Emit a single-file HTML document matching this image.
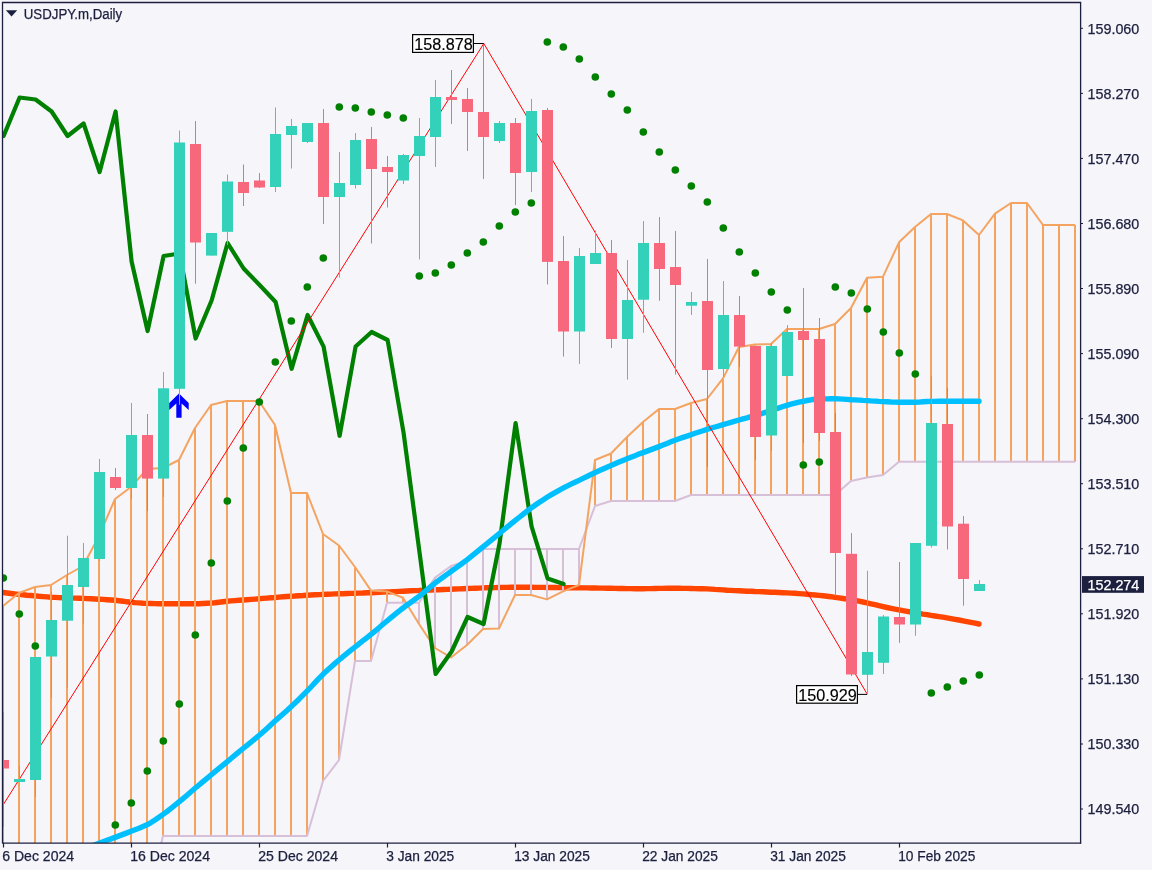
<!DOCTYPE html>
<html><head><meta charset="utf-8"><title>USDJPY.m, Daily</title>
<style>html,body{margin:0;padding:0;background:#f5f5fa;overflow:hidden}svg text{font-family:"Liberation Sans",sans-serif}</style>
</head><body>
<svg width="1152" height="870" viewBox="0 0 1152 870" style="display:block">
<rect width="1152" height="870" fill="#f5f5fa"/>
<defs><clipPath id="cp"><rect x="3" y="3" width="1077" height="840"/></clipPath></defs>
<g clip-path="url(#cp)">
<polyline points="-5.0,591.5 -1.0,592.0 3.0,592.5 7.0,593.0 11.0,593.5 15.0,594.0 19.0,594.4 23.0,594.8 27.0,595.2 31.0,595.5 35.0,595.9 39.0,596.3 43.0,596.6 47.0,596.9 51.0,597.2 55.0,597.4 59.0,597.6 63.0,597.7 67.0,597.8 71.0,598.0 75.0,598.1 79.0,598.2 83.0,598.4 87.0,598.6 91.0,598.8 95.0,599.0 99.0,599.2 103.0,599.4 107.0,599.7 111.0,600.0 115.0,600.3 119.0,600.7 123.0,601.2 127.0,601.8 131.0,602.2 135.0,602.6 139.0,602.9 143.0,603.2 147.0,603.4 151.0,603.5 155.0,603.6 159.0,603.7 163.0,603.8 167.0,603.8 171.0,603.8 175.0,603.8 179.0,603.8 183.0,603.8 187.0,603.8 191.0,603.8 195.0,603.8 199.0,603.7 203.0,603.5 207.0,603.3 211.0,603.1 215.0,602.7 219.0,602.2 223.0,601.7 227.0,601.2 231.0,600.9 235.0,600.6 239.0,600.3 243.0,600.0 247.0,599.7 251.0,599.4 255.0,599.1 259.0,598.8 263.0,598.4 267.0,598.1 271.0,597.8 275.0,597.5 279.0,597.1 283.0,596.8 287.0,596.5 291.0,596.2 295.0,596.0 299.0,595.7 303.0,595.5 307.0,595.2 311.0,595.0 315.0,594.8 319.0,594.6 323.0,594.4 327.0,594.2 331.0,594.1 335.0,593.9 339.0,593.8 343.0,593.7 347.0,593.5 351.0,593.4 355.0,593.3 359.0,593.1 363.0,593.0 367.0,592.8 371.0,592.7 375.0,592.5 379.0,592.3 383.0,592.1 387.0,591.9 391.0,591.8 395.0,591.6 399.0,591.4 403.0,591.2 407.0,591.0 411.0,590.8 415.0,590.6 419.0,590.5 423.0,590.3 427.0,590.1 431.0,590.0 435.0,589.8 439.0,589.7 443.0,589.5 447.0,589.4 451.0,589.2 455.0,589.0 459.0,588.9 463.0,588.7 467.0,588.5 471.0,588.4 475.0,588.2 479.0,588.1 483.0,587.9 487.0,587.8 491.0,587.7 495.0,587.6 499.0,587.5 503.0,587.4 507.0,587.4 511.0,587.3 515.0,587.3 519.0,587.3 523.0,587.3 527.0,587.3 531.0,587.3 535.0,587.4 539.0,587.4 543.0,587.4 547.0,587.5 551.0,587.5 555.0,587.5 559.0,587.6 563.0,587.6 567.0,587.7 571.0,587.7 575.0,587.8 579.0,587.8 583.0,587.9 587.0,587.9 591.0,588.0 595.0,588.0 599.0,588.1 603.0,588.1 607.0,588.2 611.0,588.3 615.0,588.4 619.0,588.5 623.0,588.5 627.0,588.6 631.0,588.6 635.0,588.7 639.0,588.7 643.0,588.7 647.0,588.6 651.0,588.6 655.0,588.5 659.0,588.4 663.0,588.4 667.0,588.3 671.0,588.3 675.0,588.3 679.0,588.3 683.0,588.4 687.0,588.4 691.0,588.5 695.0,588.6 699.0,588.7 703.0,588.8 707.0,588.9 711.0,589.1 715.0,589.4 719.0,589.6 723.0,589.9 727.0,590.2 731.0,590.4 735.0,590.6 739.0,590.8 743.0,591.0 747.0,591.2 751.0,591.3 755.0,591.5 759.0,591.6 763.0,591.8 767.0,592.0 771.0,592.2 775.0,592.3 779.0,592.5 783.0,592.7 787.0,592.9 791.0,593.1 795.0,593.3 799.0,593.6 803.0,593.9 807.0,594.2 811.0,594.6 815.0,595.0 819.0,595.4 823.0,595.8 827.0,596.2 831.0,596.7 835.0,597.3 839.0,597.9 843.0,598.5 847.0,599.1 851.0,599.8 855.0,600.5 859.0,601.2 863.0,602.0 867.0,602.9 871.0,603.8 875.0,604.7 879.0,605.7 883.0,606.6 887.0,607.5 891.0,608.3 895.0,609.1 899.0,609.8 903.0,610.6 907.0,611.3 911.0,612.0 915.0,612.7 919.0,613.4 923.0,614.1 927.0,614.7 931.0,615.4 935.0,616.0 939.0,616.6 943.0,617.2 947.0,617.9 951.0,618.6 955.0,619.3 959.0,620.0 963.0,620.8 967.0,621.6 971.0,622.4 975.0,623.2 979.0,624.0" fill="none" stroke="#ff4500" stroke-width="5.4" stroke-linecap="round" stroke-linejoin="round"/>
<path d="M3 606.0V850.0M19 593.0V850.0M35 587.0V850.0M51 585.0V850.0M67 575.0V850.0M83 566.0V850.0M99 536.0V850.0M115 499.0V850.0M131 487.0V850.0M147 469.0V850.0M163 468.0V836.0M179 460.0V836.0M195 428.0V836.0M211 405.0V836.0M227 401.0V836.0M243 401.0V836.0M259 401.0V836.0M275 425.0V836.0M291 493.0V836.0M307 493.0V836.0M323 534.0V781.0M339 545.5V760.0M355 567.0V661.0M371 590.6V661.0M387 591.4V602.7M403 597.7V602.7M595 460.0V506.0M611 453.5V501.0M627 437.0V501.0M643 422.0V501.0M659 409.0V501.0M675 409.0V501.0M691 403.0V495.0M707 399.0V495.0M723 378.4V495.0M739 347.0V495.0M755 344.5V495.0M771 344.0V495.0M787 329.0V495.0M803 329.0V495.0M819 329.0V495.0M835 324.0V495.0M851 308.0V481.0M867 277.8V477.4M883 276.7V475.0M899 242.3V461.8M915 227.0V461.8M931 214.0V461.8M947 214.0V461.8M963 220.4V461.8M979 235.0V461.8M995 213.6V461.8M1011 203.0V461.8M1027 203.0V461.8M1043 225.0V461.8M1059 225.0V461.8M1075 225.0V461.8" stroke="#f4a460" stroke-width="2" fill="none"/>
<path d="M419 602.7V624.0M435 577.6V648.0M451 566.0V657.5M467 561.0V645.0M483 549.0V629.0M499 549.0V628.5M515 549.0V595.0M531 549.0V595.0M547 549.0V599.4M563 549.0V591.4M579 549.0V585.0" stroke="#d8bfd8" stroke-width="2" fill="none"/>
<polyline points="3,903.0 19,903.0 35,903.0 51,903.0 67,903.0 83,903.0 99,903.0 115,903.0 131,903.0 147,903.0 163,836.0 179,836.0 195,836.0 211,836.0 227,836.0 243,836.0 259,836.0 275,836.0 291,836.0 307,836.0 323,781.0 339,760.0 355,661.0 371,661.0 387,602.7 403,602.7 419,602.7 435,577.6 451,566.0 467,561.0 483,549.0 499,549.0 515,549.0 531,549.0 547,549.0 563,549.0 579,549.0 595,506.0 611,501.0 627,501.0 643,501.0 659,501.0 675,501.0 691,495.0 707,495.0 723,495.0 739,495.0 755,495.0 771,495.0 787,495.0 803,495.0 819,495.0 835,495.0 851,481.0 867,477.4 883,475.0 899,461.8 915,461.8 931,461.8 947,461.8 963,461.8 979,461.8 995,461.8 1011,461.8 1027,461.8 1043,461.8 1059,461.8 1075,461.8" fill="none" stroke="#d8bfd8" stroke-width="2" stroke-linejoin="round"/>
<polyline points="3,606.0 19,593.0 35,587.0 51,585.0 67,575.0 83,566.0 99,536.0 115,499.0 131,487.0 147,469.0 163,468.0 179,460.0 195,428.0 211,405.0 227,401.0 243,401.0 259,401.0 275,425.0 291,493.0 307,493.0 323,534.0 339,545.5 355,567.0 371,590.6 387,591.4 403,597.7 419,624.0 435,648.0 451,657.5 467,645.0 483,629.0 499,628.5 515,595.0 531,595.0 547,599.4 563,591.4 579,585.0 595,460.0 611,453.5 627,437.0 643,422.0 659,409.0 675,409.0 691,403.0 707,399.0 723,378.4 739,347.0 755,344.5 771,344.0 787,329.0 803,329.0 819,329.0 835,324.0 851,308.0 867,277.8 883,276.7 899,242.3 915,227.0 931,214.0 947,214.0 963,220.4 979,235.0 995,213.6 1011,203.0 1027,203.0 1043,225.0 1059,225.0 1075,225.0" fill="none" stroke="#f4a460" stroke-width="2" stroke-linejoin="round"/>
<polyline points="3.6,136.0 19.6,97.5 35.6,99.5 51.6,111.5 67.6,136.0 83.6,123.5 99.6,172.0 115.6,111.5 131.6,261.5 147.6,331.0 163.6,256.0 179.6,253.5 195.6,338.5 211.6,300.5 227.6,243.0 243.6,268.5 259.6,285.0 275.6,302.0 291.6,368.8 307.6,315.0 323.6,346.6 339.6,435.8 355.6,346.5 371.6,332.0 387.6,340.0 403.6,433.0 419.6,553.0 435.6,674.0 451.6,651.5 467.6,617.0 483.6,624.0 499.6,543.0 515.6,423.0 531.6,526.5 547.6,578.5 563.6,584.0" fill="none" stroke="#008000" stroke-width="4.2" stroke-linejoin="round" stroke-linecap="round"/>
<polyline points="83.0,849.0 87.0,847.6 91.0,846.1 95.0,844.7 99.0,843.2 103.0,841.8 107.0,840.3 111.0,838.9 115.0,837.4 119.0,835.9 123.0,834.4 127.0,832.9 131.0,831.3 135.0,829.8 139.0,828.3 143.0,826.6 147.0,824.8 151.0,822.6 155.0,820.0 159.0,817.2 163.0,814.4 167.0,811.5 171.0,808.4 175.0,805.2 179.0,801.9 183.0,798.6 187.0,795.2 191.0,791.7 195.0,788.3 199.0,785.0 203.0,781.6 207.0,778.3 211.0,775.0 215.0,771.7 219.0,768.4 223.0,765.1 227.0,761.8 231.0,758.5 235.0,755.1 239.0,751.8 243.0,748.5 247.0,745.3 251.0,742.1 255.0,738.8 259.0,735.5 263.0,732.0 267.0,728.4 271.0,724.7 275.0,721.1 279.0,717.5 283.0,714.0 287.0,710.5 291.0,706.8 295.0,703.0 299.0,699.2 303.0,695.2 307.0,691.2 311.0,687.0 315.0,682.7 319.0,678.4 323.0,674.3 327.0,670.5 331.0,666.9 335.0,663.4 339.0,660.0 343.0,656.7 347.0,653.4 351.0,650.2 355.0,647.0 359.0,643.8 363.0,640.7 367.0,637.6 371.0,634.4 375.0,631.1 379.0,627.7 383.0,624.3 387.0,621.0 391.0,617.7 395.0,614.4 399.0,611.1 403.0,608.0 407.0,605.0 411.0,602.2 415.0,599.3 419.0,596.3 423.0,593.1 427.0,589.8 431.0,586.4 435.0,583.2 439.0,580.2 443.0,577.3 447.0,574.4 451.0,571.5 455.0,568.6 459.0,565.7 463.0,562.8 467.0,559.8 471.0,556.6 475.0,553.4 479.0,550.1 483.0,546.8 487.0,543.6 491.0,540.3 495.0,537.1 499.0,533.8 503.0,530.5 507.0,527.2 511.0,523.9 515.0,520.7 519.0,517.5 523.0,514.3 527.0,511.2 531.0,508.2 535.0,505.3 539.0,502.5 543.0,499.9 547.0,497.3 551.0,494.9 555.0,492.6 559.0,490.3 563.0,488.2 567.0,486.2 571.0,484.2 575.0,482.3 579.0,480.4 583.0,478.4 587.0,476.5 591.0,474.5 595.0,472.6 599.0,470.8 603.0,469.0 607.0,467.2 611.0,465.5 615.0,463.8 619.0,462.1 623.0,460.4 627.0,458.8 631.0,457.2 635.0,455.7 639.0,454.1 643.0,452.6 647.0,451.1 651.0,449.6 655.0,448.1 659.0,446.6 663.0,445.0 667.0,443.4 671.0,441.8 675.0,440.3 679.0,438.8 683.0,437.4 687.0,436.1 691.0,434.7 695.0,433.3 699.0,432.0 703.0,430.7 707.0,429.4 711.0,428.2 715.0,427.0 719.0,425.9 723.0,424.7 727.0,423.5 731.0,422.3 735.0,421.2 739.0,420.0 743.0,418.9 747.0,417.8 751.0,416.6 755.0,415.5 759.0,414.3 763.0,413.1 767.0,411.9 771.0,410.6 775.0,409.3 779.0,407.9 783.0,406.5 787.0,405.3 791.0,404.2 795.0,403.1 799.0,402.1 803.0,401.3 807.0,400.5 811.0,399.8 815.0,399.3 819.0,399.0 823.0,398.9 827.0,398.9 831.0,398.8 835.0,398.8 839.0,398.9 843.0,399.1 847.0,399.4 851.0,399.7 855.0,399.9 859.0,400.1 863.0,400.4 867.0,400.6 871.0,400.9 875.0,401.1 879.0,401.4 883.0,401.6 887.0,401.8 891.0,402.0 895.0,402.1 899.0,402.2 903.0,402.2 907.0,402.2 911.0,402.2 915.0,402.2 919.0,402.1 923.0,401.8 927.0,401.5 931.0,401.4 935.0,401.4 939.0,401.3 943.0,401.3 947.0,401.3 951.0,401.3 955.0,401.3 959.0,401.3 963.0,401.3 967.0,401.3 971.0,401.3 975.0,401.3 979.0,401.3" fill="none" stroke="#00bfff" stroke-width="5.4" stroke-linecap="round" stroke-linejoin="round"/>
<polyline points="-2,813 483.8,43.5 867,693.8" fill="none" stroke="#ff0000" stroke-width="1"/>
<circle cx="3.3" cy="578" r="3.8" fill="#008000"/>
<circle cx="19.3" cy="614" r="3.8" fill="#008000"/>
<circle cx="35.3" cy="646" r="3.8" fill="#008000"/>
<circle cx="115.3" cy="825" r="3.8" fill="#008000"/>
<circle cx="131.3" cy="803" r="3.8" fill="#008000"/>
<circle cx="147.3" cy="771" r="3.8" fill="#008000"/>
<circle cx="163.3" cy="741" r="3.8" fill="#008000"/>
<circle cx="179.3" cy="704" r="3.8" fill="#008000"/>
<circle cx="195.3" cy="635" r="3.8" fill="#008000"/>
<circle cx="211.3" cy="563" r="3.8" fill="#008000"/>
<circle cx="227.3" cy="501" r="3.8" fill="#008000"/>
<circle cx="243.3" cy="448" r="3.8" fill="#008000"/>
<circle cx="259.3" cy="402" r="3.8" fill="#008000"/>
<circle cx="275.3" cy="362" r="3.8" fill="#008000"/>
<circle cx="291.3" cy="321" r="3.8" fill="#008000"/>
<circle cx="307.3" cy="287" r="3.8" fill="#008000"/>
<circle cx="323.3" cy="258" r="3.8" fill="#008000"/>
<circle cx="339.3" cy="107" r="3.8" fill="#008000"/>
<circle cx="355.3" cy="108" r="3.8" fill="#008000"/>
<circle cx="371.3" cy="112" r="3.8" fill="#008000"/>
<circle cx="387.3" cy="115" r="3.8" fill="#008000"/>
<circle cx="403.3" cy="118" r="3.8" fill="#008000"/>
<circle cx="419.3" cy="276" r="3.8" fill="#008000"/>
<circle cx="435.3" cy="273" r="3.8" fill="#008000"/>
<circle cx="451.3" cy="265" r="3.8" fill="#008000"/>
<circle cx="467.3" cy="253" r="3.8" fill="#008000"/>
<circle cx="483.3" cy="242" r="3.8" fill="#008000"/>
<circle cx="499.3" cy="226" r="3.8" fill="#008000"/>
<circle cx="515.3" cy="212" r="3.8" fill="#008000"/>
<circle cx="531.3" cy="203" r="3.8" fill="#008000"/>
<circle cx="547.3" cy="42" r="3.8" fill="#008000"/>
<circle cx="563.3" cy="47" r="3.8" fill="#008000"/>
<circle cx="579.3" cy="59" r="3.8" fill="#008000"/>
<circle cx="595.3" cy="77" r="3.8" fill="#008000"/>
<circle cx="611.3" cy="94" r="3.8" fill="#008000"/>
<circle cx="627.3" cy="110" r="3.8" fill="#008000"/>
<circle cx="643.3" cy="132" r="3.8" fill="#008000"/>
<circle cx="659.3" cy="152" r="3.8" fill="#008000"/>
<circle cx="675.3" cy="170" r="3.8" fill="#008000"/>
<circle cx="691.3" cy="186" r="3.8" fill="#008000"/>
<circle cx="707.3" cy="202" r="3.8" fill="#008000"/>
<circle cx="723.3" cy="228" r="3.8" fill="#008000"/>
<circle cx="739.3" cy="252" r="3.8" fill="#008000"/>
<circle cx="755.3" cy="273" r="3.8" fill="#008000"/>
<circle cx="771.3" cy="292" r="3.8" fill="#008000"/>
<circle cx="787.3" cy="310" r="3.8" fill="#008000"/>
<circle cx="803.3" cy="465" r="3.8" fill="#008000"/>
<circle cx="819.3" cy="462" r="3.8" fill="#008000"/>
<circle cx="835.3" cy="287" r="3.8" fill="#008000"/>
<circle cx="851.3" cy="293" r="3.8" fill="#008000"/>
<circle cx="867.3" cy="309" r="3.8" fill="#008000"/>
<circle cx="883.3" cy="332" r="3.8" fill="#008000"/>
<circle cx="899.3" cy="353" r="3.8" fill="#008000"/>
<circle cx="915.3" cy="374" r="3.8" fill="#008000"/>
<circle cx="931.3" cy="693" r="3.8" fill="#008000"/>
<circle cx="947.3" cy="687" r="3.8" fill="#008000"/>
<circle cx="963.3" cy="681" r="3.8" fill="#008000"/>
<circle cx="979.3" cy="675" r="3.8" fill="#008000"/>
<path d="M179 393.5L188.7 403V410L181.6 403.4V417.7H176.3V403.4L169.2 410V403Z" fill="#0000ff"/>
<rect x="3.0" y="712" width="1" height="115.0" fill="#f7687d"/>
<rect x="-2.0" y="760" width="11" height="8.5" fill="#f7687d"/>
<rect x="19.0" y="766" width="1" height="16.0" fill="#33d1b9"/>
<rect x="14.0" y="779" width="11" height="3.0" fill="#33d1b9"/>
<rect x="35.0" y="657" width="1" height="140.0" fill="#33d1b9"/>
<rect x="30.0" y="657" width="11" height="123.0" fill="#33d1b9"/>
<rect x="51.0" y="592" width="1" height="106.0" fill="#33d1b9"/>
<rect x="46.0" y="620" width="11" height="36.5" fill="#33d1b9"/>
<rect x="67.0" y="535.7" width="1" height="151.9" fill="#33d1b9"/>
<rect x="62.0" y="585" width="11" height="35.7" fill="#33d1b9"/>
<rect x="83.0" y="543" width="1" height="80.5" fill="#33d1b9"/>
<rect x="78.0" y="558" width="11" height="29.0" fill="#33d1b9"/>
<rect x="99.0" y="459" width="1" height="102.0" fill="#33d1b9"/>
<rect x="94.0" y="472" width="11" height="87.0" fill="#33d1b9"/>
<rect x="115.0" y="468" width="1" height="22.0" fill="#f7687d"/>
<rect x="110.0" y="477" width="11" height="11.0" fill="#f7687d"/>
<rect x="131.0" y="403" width="1" height="95.6" fill="#33d1b9"/>
<rect x="126.0" y="435" width="11" height="53.0" fill="#33d1b9"/>
<rect x="147.0" y="414" width="1" height="97.0" fill="#f7687d"/>
<rect x="142.0" y="435" width="11" height="43.6" fill="#f7687d"/>
<rect x="163.0" y="372" width="1" height="125.0" fill="#33d1b9"/>
<rect x="158.0" y="388.3" width="11" height="90.3" fill="#33d1b9"/>
<rect x="179.0" y="130.5" width="1" height="274.3" fill="#33d1b9"/>
<rect x="174.0" y="142.5" width="11" height="246.3" fill="#33d1b9"/>
<rect x="195.0" y="121" width="1" height="162.7" fill="#f7687d"/>
<rect x="190.0" y="144" width="11" height="98.5" fill="#f7687d"/>
<rect x="211.0" y="233" width="1" height="22.6" fill="#33d1b9"/>
<rect x="206.0" y="233" width="11" height="22.6" fill="#33d1b9"/>
<rect x="227.0" y="174.5" width="1" height="70.5" fill="#33d1b9"/>
<rect x="222.0" y="181.5" width="11" height="50.3" fill="#33d1b9"/>
<rect x="243.0" y="164.5" width="1" height="41.5" fill="#f7687d"/>
<rect x="238.0" y="182" width="11" height="11.0" fill="#f7687d"/>
<rect x="259.0" y="173" width="1" height="15.0" fill="#f7687d"/>
<rect x="254.0" y="180.5" width="11" height="7.0" fill="#f7687d"/>
<rect x="275.0" y="107.5" width="1" height="84.5" fill="#33d1b9"/>
<rect x="270.0" y="134" width="11" height="53.0" fill="#33d1b9"/>
<rect x="291.0" y="119" width="1" height="49.5" fill="#33d1b9"/>
<rect x="286.0" y="126" width="11" height="9.0" fill="#33d1b9"/>
<rect x="307.0" y="123" width="1" height="20.0" fill="#33d1b9"/>
<rect x="302.0" y="123" width="11" height="19.0" fill="#33d1b9"/>
<rect x="323.0" y="109" width="1" height="115.0" fill="#f7687d"/>
<rect x="318.0" y="123" width="11" height="74.0" fill="#f7687d"/>
<rect x="339.0" y="152" width="1" height="125.6" fill="#33d1b9"/>
<rect x="334.0" y="183" width="11" height="14.0" fill="#33d1b9"/>
<rect x="355.0" y="133" width="1" height="55.5" fill="#33d1b9"/>
<rect x="350.0" y="140" width="11" height="45.0" fill="#33d1b9"/>
<rect x="371.0" y="127" width="1" height="116.5" fill="#f7687d"/>
<rect x="366.0" y="139" width="11" height="30.0" fill="#f7687d"/>
<rect x="387.0" y="156" width="1" height="51.5" fill="#f7687d"/>
<rect x="382.0" y="167" width="11" height="5.0" fill="#f7687d"/>
<rect x="403.0" y="154" width="1" height="30.0" fill="#33d1b9"/>
<rect x="398.0" y="155" width="11" height="25.5" fill="#33d1b9"/>
<rect x="419.0" y="118" width="1" height="141.4" fill="#33d1b9"/>
<rect x="414.0" y="136" width="11" height="20.0" fill="#33d1b9"/>
<rect x="435.0" y="80" width="1" height="87.0" fill="#33d1b9"/>
<rect x="430.0" y="97" width="11" height="40.0" fill="#33d1b9"/>
<rect x="451.0" y="70" width="1" height="54.0" fill="#f7687d"/>
<rect x="446.0" y="97" width="11" height="3.0" fill="#f7687d"/>
<rect x="467.0" y="88" width="1" height="63.0" fill="#f7687d"/>
<rect x="462.0" y="99" width="11" height="13.0" fill="#f7687d"/>
<rect x="483.0" y="44" width="1" height="135.0" fill="#f7687d"/>
<rect x="478.0" y="112" width="11" height="25.0" fill="#f7687d"/>
<rect x="499.0" y="121" width="1" height="22.0" fill="#33d1b9"/>
<rect x="494.0" y="123" width="11" height="18.0" fill="#33d1b9"/>
<rect x="515.0" y="118" width="1" height="87.0" fill="#f7687d"/>
<rect x="510.0" y="123" width="11" height="50.0" fill="#f7687d"/>
<rect x="531.0" y="99" width="1" height="93.0" fill="#33d1b9"/>
<rect x="526.0" y="111" width="11" height="61.0" fill="#33d1b9"/>
<rect x="547.0" y="108" width="1" height="176.4" fill="#f7687d"/>
<rect x="542.0" y="110" width="11" height="151.9" fill="#f7687d"/>
<rect x="563.0" y="236" width="1" height="120.6" fill="#f7687d"/>
<rect x="558.0" y="261" width="11" height="70.5" fill="#f7687d"/>
<rect x="579.0" y="248" width="1" height="116.0" fill="#33d1b9"/>
<rect x="574.0" y="256" width="11" height="75.5" fill="#33d1b9"/>
<rect x="595.0" y="230.5" width="1" height="33.5" fill="#33d1b9"/>
<rect x="590.0" y="253" width="11" height="11.0" fill="#33d1b9"/>
<rect x="611.0" y="240" width="1" height="108.0" fill="#f7687d"/>
<rect x="606.0" y="253" width="11" height="86.0" fill="#f7687d"/>
<rect x="627.0" y="260" width="1" height="119.6" fill="#33d1b9"/>
<rect x="622.0" y="300" width="11" height="39.0" fill="#33d1b9"/>
<rect x="643.0" y="221" width="1" height="111.8" fill="#33d1b9"/>
<rect x="638.0" y="243" width="11" height="56.7" fill="#33d1b9"/>
<rect x="659.0" y="217" width="1" height="83.7" fill="#f7687d"/>
<rect x="654.0" y="243" width="11" height="26.0" fill="#f7687d"/>
<rect x="675.0" y="231" width="1" height="143.6" fill="#f7687d"/>
<rect x="670.0" y="267" width="11" height="18.0" fill="#f7687d"/>
<rect x="691.0" y="292" width="1" height="23.0" fill="#33d1b9"/>
<rect x="686.0" y="302" width="11" height="3.7" fill="#33d1b9"/>
<rect x="707.0" y="259" width="1" height="208.0" fill="#f7687d"/>
<rect x="702.0" y="301" width="11" height="69.0" fill="#f7687d"/>
<rect x="723.0" y="281" width="1" height="96.0" fill="#33d1b9"/>
<rect x="718.0" y="315" width="11" height="54.0" fill="#33d1b9"/>
<rect x="739.0" y="296" width="1" height="71.0" fill="#f7687d"/>
<rect x="734.0" y="315" width="11" height="31.6" fill="#f7687d"/>
<rect x="755.0" y="346" width="1" height="114.0" fill="#f7687d"/>
<rect x="750.0" y="346" width="11" height="91.0" fill="#f7687d"/>
<rect x="771.0" y="343" width="1" height="108.0" fill="#33d1b9"/>
<rect x="766.0" y="346" width="11" height="89.5" fill="#33d1b9"/>
<rect x="787.0" y="325" width="1" height="51.0" fill="#33d1b9"/>
<rect x="782.0" y="332" width="11" height="44.0" fill="#33d1b9"/>
<rect x="803.0" y="288" width="1" height="155.0" fill="#f7687d"/>
<rect x="798.0" y="331" width="11" height="9.0" fill="#f7687d"/>
<rect x="819.0" y="318" width="1" height="123.0" fill="#f7687d"/>
<rect x="814.0" y="339" width="11" height="94.0" fill="#f7687d"/>
<rect x="835.0" y="413" width="1" height="183.0" fill="#f7687d"/>
<rect x="830.0" y="432" width="11" height="121.0" fill="#f7687d"/>
<rect x="851.0" y="533" width="1" height="143.0" fill="#f7687d"/>
<rect x="846.0" y="553.8" width="11" height="120.7" fill="#f7687d"/>
<rect x="867.0" y="570.8" width="1" height="123.7" fill="#33d1b9"/>
<rect x="862.0" y="652" width="11" height="22.8" fill="#33d1b9"/>
<rect x="883.0" y="615" width="1" height="59.0" fill="#33d1b9"/>
<rect x="878.0" y="616.5" width="11" height="46.3" fill="#33d1b9"/>
<rect x="899.0" y="562" width="1" height="80.8" fill="#f7687d"/>
<rect x="894.0" y="617" width="11" height="7.5" fill="#f7687d"/>
<rect x="915.0" y="543" width="1" height="92.8" fill="#33d1b9"/>
<rect x="910.0" y="543" width="11" height="81.5" fill="#33d1b9"/>
<rect x="931.0" y="376.4" width="1" height="171.1" fill="#33d1b9"/>
<rect x="926.0" y="423" width="11" height="122.8" fill="#33d1b9"/>
<rect x="947.0" y="388" width="1" height="161.5" fill="#f7687d"/>
<rect x="942.0" y="424" width="11" height="102.5" fill="#f7687d"/>
<rect x="963.0" y="516" width="1" height="89.7" fill="#f7687d"/>
<rect x="958.0" y="523.7" width="11" height="55.3" fill="#f7687d"/>
<rect x="979.0" y="580" width="1" height="11.0" fill="#33d1b9"/>
<rect x="974.0" y="584" width="11" height="7.0" fill="#33d1b9"/>
</g>
<rect x="412.6" y="34.6" width="60.8" height="17.8" fill="#fff" stroke="#000" stroke-width="1.2"/>
<path d="M474 43.5H483.8" stroke="#000" stroke-width="1"/>
<text x="414.2" y="49.8" font-size="16.2" fill="#000" stroke="#000" stroke-width="0.15" textLength="58.5" lengthAdjust="spacingAndGlyphs">158.878</text>
<rect x="796.6" y="685.6" width="60.8" height="17.599999999999955" fill="#fff" stroke="#000" stroke-width="1.2"/>
<path d="M858 694.4H867" stroke="#000" stroke-width="1"/>
<text x="798.2" y="700.5999999999999" font-size="16.2" fill="#000" stroke="#000" stroke-width="0.15" textLength="58.5" lengthAdjust="spacingAndGlyphs">150.929</text>
<path d="M2.5 843.5V2.5H1080.6V843.5" fill="none" stroke="#1c1f3e" stroke-width="1.3"/>
<path d="M2.5 843.2H1081.2" fill="none" stroke="#1c1f3e" stroke-width="1.3"/>
<path d="M5.9 10.2H17.2L11.55 16.4Z" fill="#1c1f3e"/>
<text x="23.8" y="18.7" font-size="14" fill="#1c1f3e" stroke="#1c1f3e" stroke-width="0.25" textLength="98.4" lengthAdjust="spacingAndGlyphs">USDJPY.m,Daily</text>
<path d="M1081 28.3H1083" stroke="#1c1f3e" stroke-width="1"/>
<text x="1087.5" y="33.6" font-size="14" fill="#1c1f3e" stroke="#1c1f3e" stroke-width="0.25" textLength="51.8" lengthAdjust="spacingAndGlyphs">159.060</text>
<path d="M1081 93.4H1083" stroke="#1c1f3e" stroke-width="1"/>
<text x="1087.5" y="98.7" font-size="14" fill="#1c1f3e" stroke="#1c1f3e" stroke-width="0.25" textLength="51.8" lengthAdjust="spacingAndGlyphs">158.270</text>
<path d="M1081 158.4H1083" stroke="#1c1f3e" stroke-width="1"/>
<text x="1087.5" y="163.7" font-size="14" fill="#1c1f3e" stroke="#1c1f3e" stroke-width="0.25" textLength="51.8" lengthAdjust="spacingAndGlyphs">157.470</text>
<path d="M1081 223.5H1083" stroke="#1c1f3e" stroke-width="1"/>
<text x="1087.5" y="228.8" font-size="14" fill="#1c1f3e" stroke="#1c1f3e" stroke-width="0.25" textLength="51.8" lengthAdjust="spacingAndGlyphs">156.680</text>
<path d="M1081 288.5H1083" stroke="#1c1f3e" stroke-width="1"/>
<text x="1087.5" y="293.8" font-size="14" fill="#1c1f3e" stroke="#1c1f3e" stroke-width="0.25" textLength="51.8" lengthAdjust="spacingAndGlyphs">155.890</text>
<path d="M1081 353.6H1083" stroke="#1c1f3e" stroke-width="1"/>
<text x="1087.5" y="358.9" font-size="14" fill="#1c1f3e" stroke="#1c1f3e" stroke-width="0.25" textLength="51.8" lengthAdjust="spacingAndGlyphs">155.090</text>
<path d="M1081 418.7H1083" stroke="#1c1f3e" stroke-width="1"/>
<text x="1087.5" y="424.0" font-size="14" fill="#1c1f3e" stroke="#1c1f3e" stroke-width="0.25" textLength="51.8" lengthAdjust="spacingAndGlyphs">154.300</text>
<path d="M1081 483.7H1083" stroke="#1c1f3e" stroke-width="1"/>
<text x="1087.5" y="489.0" font-size="14" fill="#1c1f3e" stroke="#1c1f3e" stroke-width="0.25" textLength="51.8" lengthAdjust="spacingAndGlyphs">153.510</text>
<path d="M1081 548.8H1083" stroke="#1c1f3e" stroke-width="1"/>
<text x="1087.5" y="554.1" font-size="14" fill="#1c1f3e" stroke="#1c1f3e" stroke-width="0.25" textLength="51.8" lengthAdjust="spacingAndGlyphs">152.710</text>
<path d="M1081 613.8H1083" stroke="#1c1f3e" stroke-width="1"/>
<text x="1087.5" y="619.1" font-size="14" fill="#1c1f3e" stroke="#1c1f3e" stroke-width="0.25" textLength="51.8" lengthAdjust="spacingAndGlyphs">151.920</text>
<path d="M1081 678.9H1083" stroke="#1c1f3e" stroke-width="1"/>
<text x="1087.5" y="684.2" font-size="14" fill="#1c1f3e" stroke="#1c1f3e" stroke-width="0.25" textLength="51.8" lengthAdjust="spacingAndGlyphs">151.130</text>
<path d="M1081 744.0H1083" stroke="#1c1f3e" stroke-width="1"/>
<text x="1087.5" y="749.3" font-size="14" fill="#1c1f3e" stroke="#1c1f3e" stroke-width="0.25" textLength="51.8" lengthAdjust="spacingAndGlyphs">150.330</text>
<path d="M1081 809.0H1083" stroke="#1c1f3e" stroke-width="1"/>
<text x="1087.5" y="814.3" font-size="14" fill="#1c1f3e" stroke="#1c1f3e" stroke-width="0.25" textLength="51.8" lengthAdjust="spacingAndGlyphs">149.540</text>
<rect x="1082" y="576.1" width="62" height="16.7" fill="#1c1f3e"/>
<text x="1087.5" y="590.2" font-size="14" fill="#fff" stroke="#fff" stroke-width="0.25" textLength="51.8" lengthAdjust="spacingAndGlyphs">152.274</text>
<path d="M3.5 843V847.5" stroke="#1c1f3e" stroke-width="1.2"/>
<text x="2.2" y="860.6" font-size="13.85" fill="#1c1f3e" stroke="#1c1f3e" stroke-width="0.25" textLength="71.94" lengthAdjust="spacingAndGlyphs">6 Dec 2024</text>
<path d="M131.5 843V847.5" stroke="#1c1f3e" stroke-width="1.2"/>
<text x="130.2" y="860.6" font-size="13.85" fill="#1c1f3e" stroke="#1c1f3e" stroke-width="0.25" textLength="79.78" lengthAdjust="spacingAndGlyphs">16 Dec 2024</text>
<path d="M259.5 843V847.5" stroke="#1c1f3e" stroke-width="1.2"/>
<text x="258.2" y="860.6" font-size="13.85" fill="#1c1f3e" stroke="#1c1f3e" stroke-width="0.25" textLength="79.78" lengthAdjust="spacingAndGlyphs">25 Dec 2024</text>
<path d="M387.5 843V847.5" stroke="#1c1f3e" stroke-width="1.2"/>
<text x="386.2" y="860.6" font-size="13.85" fill="#1c1f3e" stroke="#1c1f3e" stroke-width="0.25" textLength="68.07" lengthAdjust="spacingAndGlyphs">3 Jan 2025</text>
<path d="M515.5 843V847.5" stroke="#1c1f3e" stroke-width="1.2"/>
<text x="514.2" y="860.6" font-size="13.85" fill="#1c1f3e" stroke="#1c1f3e" stroke-width="0.25" textLength="75.72" lengthAdjust="spacingAndGlyphs">13 Jan 2025</text>
<path d="M643.5 843V847.5" stroke="#1c1f3e" stroke-width="1.2"/>
<text x="642.2" y="860.6" font-size="13.85" fill="#1c1f3e" stroke="#1c1f3e" stroke-width="0.25" textLength="75.72" lengthAdjust="spacingAndGlyphs">22 Jan 2025</text>
<path d="M771.5 843V847.5" stroke="#1c1f3e" stroke-width="1.2"/>
<text x="770.2" y="860.6" font-size="13.85" fill="#1c1f3e" stroke="#1c1f3e" stroke-width="0.25" textLength="75.72" lengthAdjust="spacingAndGlyphs">31 Jan 2025</text>
<path d="M899.5 843V847.5" stroke="#1c1f3e" stroke-width="1.2"/>
<text x="898.2" y="860.6" font-size="13.85" fill="#1c1f3e" stroke="#1c1f3e" stroke-width="0.25" textLength="77.24" lengthAdjust="spacingAndGlyphs">10 Feb 2025</text>
</svg>
</body></html>
